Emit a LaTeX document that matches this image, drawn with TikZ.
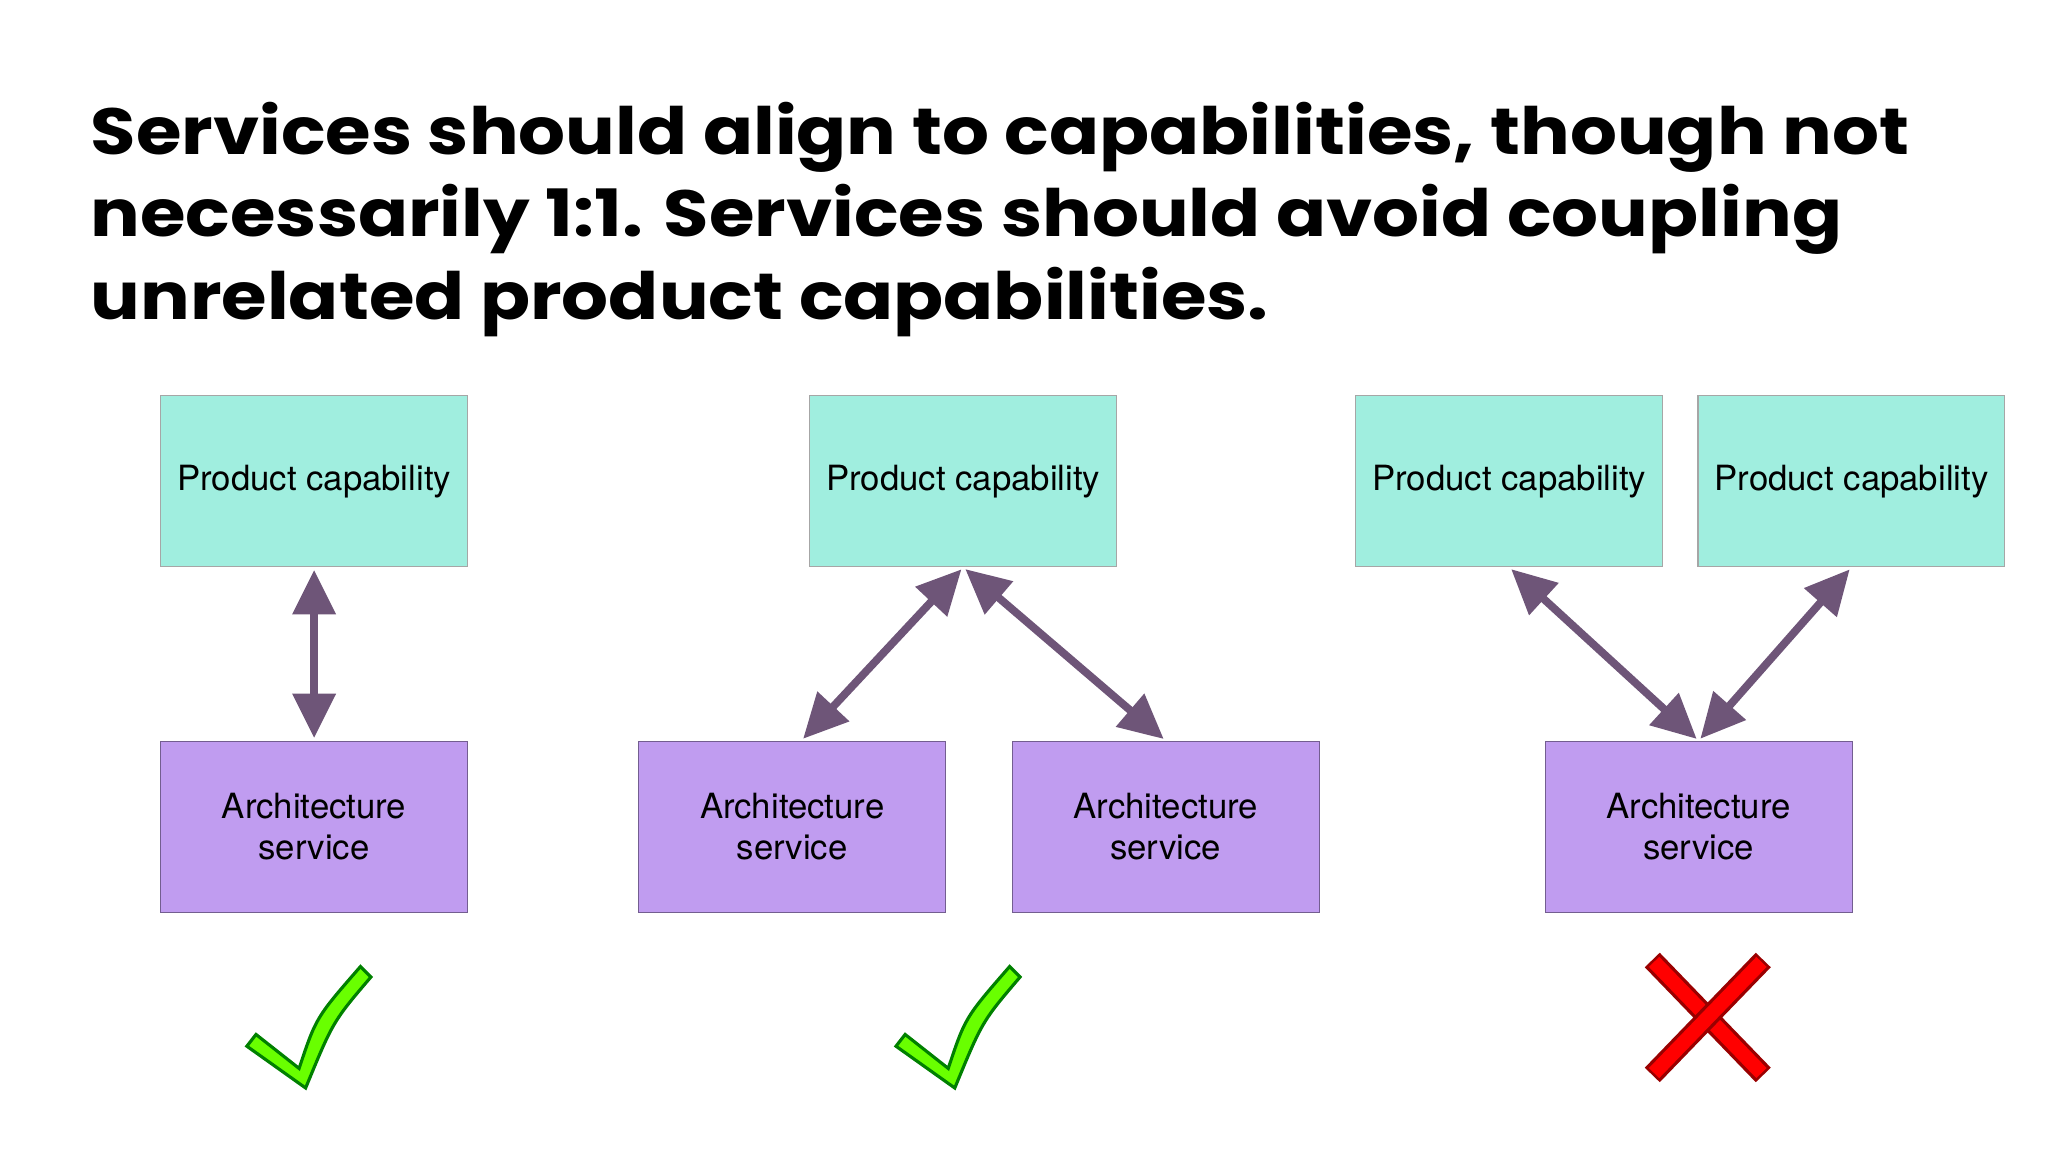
\documentclass[tikz,border=0pt]{standalone}
\usepackage{fontspec}
\setmainfont{TeX Gyre Heros}
\newfontfamily\titlefont{Poppins}
\usetikzlibrary{arrows.meta}
\definecolor{cap}{HTML}{A0EEDF}
\definecolor{svc}{HTML}{C09CF0}
\definecolor{arr}{HTML}{6E5578}
\begin{document}
\begin{tikzpicture}[x=0.5pt,y=-0.5pt,
 capbox/.style={draw=gray!70,fill=cap,minimum width=117.5pt,minimum height=65.5pt,inner sep=0,font=\fontsize{13.3}{15.5}\selectfont,align=center},
 svcbox/.style={capbox,fill=svc,draw=svc!60!black},
 link/.style={arr,line width=3pt,{Triangle[length=17pt,width=16pt]}-{Triangle[length=17pt,width=16pt]},shorten <=1pt,shorten >=1pt}]
\useasboundingbox (0,0) rectangle (1568,882);
\node[anchor=north west,align=left,font=\titlefont\bfseries\fontsize{25}{31.5}\selectfont,inner sep=0] (t) at (69,78)
 {\scalebox{1.13}[1]{Services should align to capabilities, though not}\\\scalebox{1.13}[1]{necessarily 1:1. Services should avoid coupling}\\\scalebox{1.13}[1]{unrelated product capabilities.}};
\node[capbox] (c1) at (240.5,368.5) {Product capability};
\node[capbox] (c2) at (737.5,368.5) {Product capability};
\node[capbox] (c3) at (1155.5,368.5) {Product capability};
\node[capbox] (c4) at (1417.5,368.5) {Product capability};
\node[svcbox] (s1) at (240.5,633) {Architecture\\service};
\node[svcbox] (s2) at (606.5,633) {Architecture\\service};
\node[svcbox] (s3) at (892.5,633) {Architecture\\service};
\node[svcbox] (s4) at (1300.5,633) {Architecture\\service};
\draw[link] (c1.south) -- (s1.north);
\draw[link] (c2.south) -- ([xshift=3.5]s2.north);
\draw[link] (c2.south) -- (s3.north);
\draw[link] (c3.south) -- (s4.north);
\draw[link] (c4.south) -- (s4.north);
\foreach \dx in {0,497}{
\fill[green!45!lime,draw=green!50!black,line width=1.2pt,xshift=\dx*0.5pt]
 (189,801) -- (196,792) -- (229,818) .. controls (242,779) .. (276,740) -- (284,748) .. controls (255,782) .. (234,833) -- cycle;}
\foreach \a/\b in {{(1265,735)}/{(1350,823)},{(1350,735)}/{(1265,823)}}{
 \draw[red!60!black,line width=8pt] \a -- \b;
 \draw[red,line width=5.5pt,shorten <=1pt,shorten >=1pt] \a -- \b;}
\end{tikzpicture}
\end{document}
